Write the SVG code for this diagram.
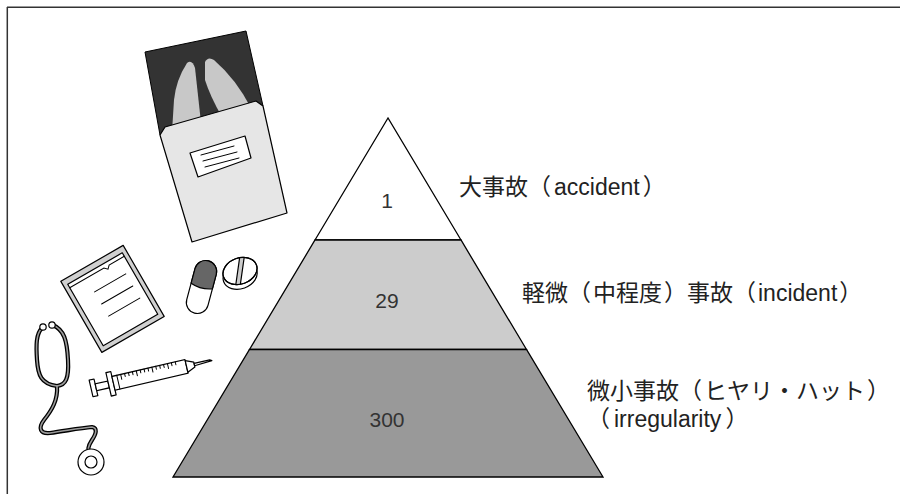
<svg xmlns="http://www.w3.org/2000/svg" width="900" height="494" viewBox="0 0 900 494">
  <style>
    .ln { stroke: #000; stroke-width: 1.2; stroke-linejoin: round; stroke-linecap: round; }
    .thin { stroke: #000; stroke-width: 1; fill: none; stroke-linecap: round; }
    .tube-o { fill: none; stroke: #000; stroke-width: 4.2; stroke-linecap: round; stroke-linejoin: round; }
    .tube-i { fill: none; stroke: #9a9a9a; stroke-width: 1.6; stroke-linecap: round; stroke-linejoin: round; }
    .num { font-family: "Liberation Sans", Arial, sans-serif; font-size: 21px; fill: #333; text-anchor: middle; }
    .lbl { font-family: "Liberation Sans", "Noto Sans CJK JP", sans-serif; font-size: 23px; fill: #222; }
    .tier { stroke: #000; stroke-width: 1.3; stroke-linejoin: miter; }
  </style>

  <rect width="900" height="494" fill="#fff"/>

  <!-- frame: top and left rules only -->
  <g id="frame" fill="none" stroke="#333" stroke-width="1.5">
    <line x1="7" y1="7.3" x2="900" y2="7.3"/>
    <line x1="7.3" y1="7" x2="7.3" y2="494"/>
  </g>

  <!-- X-ray film in its envelope -->
  <g id="xray">
    <polygon points="145,52 246,31 263,106 160,135" fill="#333" stroke="#000" stroke-width="1"/>
    <path d="M202,132 L195,68 Q192,59 187,63 Q176,80 174,100 L172,132 Z" fill="#c8c8c8"/>
    <path d="M205,62 Q208,56 214,60 Q236,79 251,108 L222,117 Q210,96 205,80 Z" fill="#c8c8c8"/>
    <path d="M160,135 L165,127 L256,101 L263,106 L287,213 L192,242 Z" fill="#e6e6e6" class="ln"/>
    <polygon points="190,153 245,136 251,158 198,177" fill="#fff" class="ln"/>
    <line x1="201" y1="155" x2="234" y2="146" class="thin"/>
    <line x1="203" y1="161" x2="237" y2="152" class="thin"/>
    <line x1="205" y1="167" x2="239" y2="158" class="thin"/>
  </g>

  <!-- clipboard -->
  <g id="clipboard" transform="translate(112,298) rotate(-30)">
    <rect x="-36" y="-40" width="72" height="82" fill="#d0d0d0" class="ln"/>
    <rect x="-31.5" y="-34" width="63" height="71" fill="#fff" class="ln"/>
    <path d="M-31.5,-30 L8,-30 L11,-27 L14,-30 L31.5,-30" class="thin"/>
    <line x1="-12" y1="-14" x2="24" y2="-14" class="thin"/>
    <line x1="-12" y1="0" x2="24" y2="0" class="thin"/>
    <line x1="-12" y1="14" x2="24" y2="14" class="thin"/>
  </g>

  <!-- capsule -->
  <g id="capsule" transform="translate(201.5,287) rotate(15)">
    <rect x="-11" y="-27" width="22" height="54" rx="11" fill="#fff" class="ln"/>
    <path d="M-11,-1 L-11,-16 A11,11 0 0 1 11,-16 L11,-1 Q0,3 -11,-1 Z" fill="#666" class="ln"/>
  </g>

  <!-- tablet -->
  <g id="tablet">
    <defs>
      <clipPath id="tabTop"><ellipse cx="0" cy="0" rx="17.5" ry="13"/></clipPath>
    </defs>
    <g transform="translate(240,271) rotate(-20)">
      <ellipse cx="-1.5" cy="4.5" rx="17.5" ry="13" fill="#fff" class="ln"/>
      <ellipse cx="0" cy="0" rx="17.5" ry="13" fill="#fff" class="ln"/>
      <g clip-path="url(#tabTop)">
        <polygon points="6,-16 10,-14 -6,16 -10,14" fill="#ccc" class="ln"/>
      </g>
      <ellipse cx="0" cy="0" rx="17.5" ry="13" fill="none" class="ln"/>
    </g>
  </g>

  <!-- stethoscope -->
  <g id="stethoscope">
    <path d="M42,328 C36,334 36,345 37,360 C38,375 41,384 57,386" class="tube-o"/>
    <path d="M53,325 C64,330 67,340 68,360 C69,378 66,385 57,386" class="tube-o"/>
    <path d="M57,386 C58,400 52,410 44,420 C38,428 40,434 50,433 C65,431 80,428 92,427 C98,428 96,434 92,440 C88,446 87,450 90,453" class="tube-o"/>
    <path d="M42,328 C36,334 36,345 37,360 C38,375 41,384 57,386" class="tube-i"/>
    <path d="M53,325 C64,330 67,340 68,360 C69,378 66,385 57,386" class="tube-i"/>
    <path d="M57,386 C58,400 52,410 44,420 C38,428 40,434 50,433 C65,431 80,428 92,427 C98,428 96,434 92,440 C88,446 87,450 90,453" class="tube-i"/>
    <circle cx="43" cy="327" r="3.2" fill="#fff" class="ln"/>
    <circle cx="52" cy="325" r="3.2" fill="#fff" class="ln"/>
    <circle cx="91" cy="462" r="13" fill="#fff" class="ln"/>
    <circle cx="91" cy="462" r="6" fill="#fff" class="ln"/>
  </g>

  <!-- syringe -->
  <g id="syringe" transform="translate(93,388) rotate(-13)">
    <rect x="-2" y="-8.5" width="5" height="17" fill="#fff" class="ln"/>
    <rect x="3" y="-3.5" width="13" height="7" fill="#fff" class="ln"/>
    <rect x="16" y="-12" width="5" height="24" fill="#fff" class="ln"/>
    <rect x="21" y="-7" width="75" height="14" fill="#fff" class="ln"/>
    <line x1="26" y1="-7" x2="26" y2="7" class="thin"/>
    <g class="thin">
      <line x1="30" y1="-7" x2="30" y2="-2"/>
      <line x1="34" y1="-7" x2="34" y2="-4"/>
      <line x1="38" y1="-7" x2="38" y2="-4"/>
      <line x1="42" y1="-7" x2="42" y2="-4"/>
      <line x1="46" y1="-7" x2="46" y2="-2"/>
      <line x1="50" y1="-7" x2="50" y2="-4"/>
      <line x1="54" y1="-7" x2="54" y2="-4"/>
      <line x1="58" y1="-7" x2="58" y2="-4"/>
      <line x1="62" y1="-7" x2="62" y2="-2"/>
      <line x1="66" y1="-7" x2="66" y2="-4"/>
      <line x1="70" y1="-7" x2="70" y2="-4"/>
      <line x1="74" y1="-7" x2="74" y2="-4"/>
      <line x1="78" y1="-7" x2="78" y2="-2"/>
      <line x1="82" y1="-7" x2="82" y2="-4"/>
      <line x1="86" y1="-7" x2="86" y2="-4"/>
    </g>
    <path d="M96,-6 L104,-2.5 L104,2.5 L96,6 Z" fill="#fff" class="ln"/>
    <path d="M104,-1.2 L120,-1.2 L122,0 L104,1.2 Z" fill="#fff" class="ln"/>
  </g>

  <!-- pyramid tiers -->
  <g id="tier-accident">
    <polygon points="388,118 315,240 461,240" fill="#fff" class="tier"/>
    <text x="387" y="208" class="num">1</text>
  </g>
  <g id="tier-incident">
    <polygon points="315,240 461,240 526.5,349.5 249.5,349.5" fill="#ccc" class="tier"/>
    <text x="387" y="308" class="num">29</text>
  </g>
  <g id="tier-irregularity">
    <polygon points="249.5,349.5 526.5,349.5 603,477 173,477" fill="#999" class="tier"/>
    <text x="387" y="427" class="num">300</text>
  </g>

  <!-- tier labels -->
  <g id="labels">
    <text x="459" y="195" class="lbl">大事故（<tspan dx="3">accident</tspan><tspan dx="3">）</tspan></text>
    <text x="522" y="301" class="lbl">軽微（<tspan dx="2">中程度</tspan><tspan dx="2">）</tspan>事故（<tspan dx="2">incident</tspan><tspan dx="2">）</tspan></text>
    <text x="587" y="399" class="lbl">微小事故（<tspan dx="2">ヒヤリ・ハット</tspan><tspan dx="2">）</tspan></text>
    <text x="587" y="427" class="lbl">（<tspan dx="4">irregularity</tspan><tspan dx="4">）</tspan></text>
  </g>
</svg>
